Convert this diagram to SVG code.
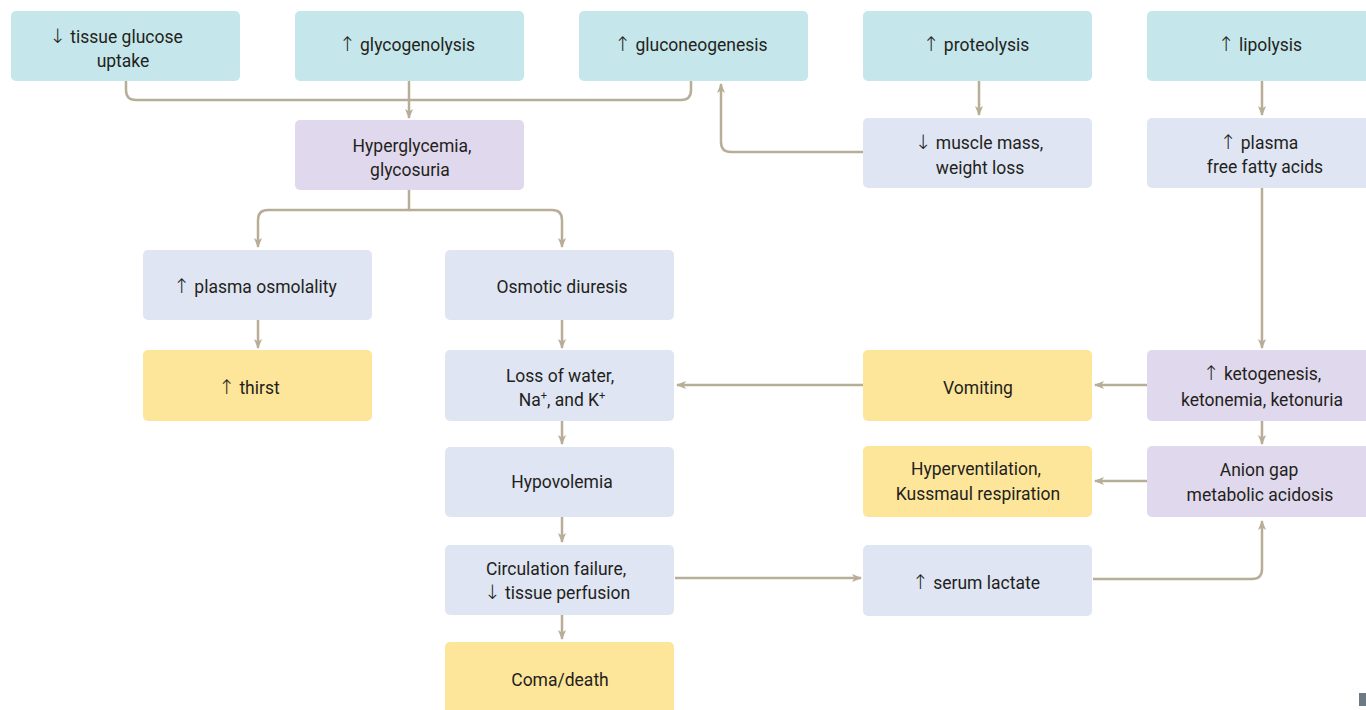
<svg xmlns="http://www.w3.org/2000/svg" width="1366" height="710" viewBox="0 0 1366 710">
<style>
.t{fill:#c5e6ea}.b{fill:#dfe5f3}.p{fill:#e0d8ec}.y{fill:#fde59a}
text{font-family:Roboto,"Noto Sans","Liberation Sans",sans-serif;font-size:17.5px;fill:#231f20;text-anchor:middle}
.ar{font-family:"DejaVu Sans",sans-serif;font-size:20px;font-weight:300}
.c path{fill:none;stroke:#b8ae98;stroke-width:2.5}
</style>
<defs>
<marker id="a" viewBox="0 0 10 10" refX="9" refY="5" markerWidth="10" markerHeight="10" markerUnits="userSpaceOnUse" orient="auto">
<path d="M0,1 L10,5 L0,9 L2.5,5 z" fill="#b8ae98"/>
</marker>
</defs>
<rect width="1366" height="710" fill="#fff"/>
<g class="c">
<path d="M126,81 V90 Q126,100 136,100 H681 Q691,100 691,90 V81"/>
<path d="M409,81 V118" marker-end="url(#a)"/>
<path d="M409,190 V210 H268 Q258,210 258,220 V247" marker-end="url(#a)"/>
<path d="M409,210 H552 Q562,210 562,220 V247" marker-end="url(#a)"/>
<path d="M863,152 H731 Q721,152 721,142 V84" marker-end="url(#a)"/>
<path d="M979,81 V115" marker-end="url(#a)"/>
<path d="M1262,81 V115" marker-end="url(#a)"/>
<path d="M1262,188 V348" marker-end="url(#a)"/>
<path d="M258,320 V348" marker-end="url(#a)"/>
<path d="M562,320 V348" marker-end="url(#a)"/>
<path d="M863,385 H677" marker-end="url(#a)"/>
<path d="M1147,385 H1095" marker-end="url(#a)"/>
<path d="M1262,421 V444" marker-end="url(#a)"/>
<path d="M1147,481 H1095" marker-end="url(#a)"/>
<path d="M562,421 V444" marker-end="url(#a)"/>
<path d="M562,517 V542" marker-end="url(#a)"/>
<path d="M562,615 V639" marker-end="url(#a)"/>
<path d="M675,578 H861" marker-end="url(#a)"/>
<path d="M1093,579 H1252 Q1262,579 1262,569 V521" marker-end="url(#a)"/>
</g>
<g id="n1"><rect class="t" x="11" y="11" width="229" height="70" rx="5"/><text x="116" y="43"><tspan class="ar">↓</tspan> tissue glucose</text><text x="123" y="67">uptake</text></g>
<g id="n2"><rect class="t" x="295" y="11" width="229" height="70" rx="5"/><text x="407" y="51"><tspan class="ar">↑</tspan> glycogenolysis</text></g>
<g id="n3"><rect class="t" x="579" y="11" width="229" height="70" rx="5"/><text x="691" y="51"><tspan class="ar">↑</tspan> gluconeogenesis</text></g>
<g id="n4"><rect class="t" x="863" y="11" width="229" height="70" rx="5"/><text x="976" y="51"><tspan class="ar">↑</tspan> proteolysis</text></g>
<g id="n5"><rect class="t" x="1147" y="11" width="229" height="70" rx="5"/><text x="1260" y="51"><tspan class="ar">↑</tspan> lipolysis</text></g>
<g id="n6"><rect class="p" x="295" y="120" width="229" height="70" rx="5"/><text x="412" y="152">Hyperglycemia,</text><text x="410" y="176">glycosuria</text></g>
<g id="n7"><rect class="b" x="863" y="118" width="229" height="70" rx="5"/><text x="979" y="149"><tspan class="ar">↓</tspan> muscle mass,</text><text x="980" y="174">weight loss</text></g>
<g id="n8"><rect class="b" x="1147" y="118" width="229" height="70" rx="5"/><text x="1259" y="149"><tspan class="ar">↑</tspan> plasma</text><text x="1265" y="173">free fatty acids</text></g>
<g id="n9"><rect class="b" x="143" y="250" width="229" height="70" rx="5"/><text x="255" y="293"><tspan class="ar">↑</tspan> plasma osmolality</text></g>
<g id="n10"><rect class="b" x="445" y="250" width="229" height="70" rx="5"/><text x="562" y="293">Osmotic diuresis</text></g>
<g id="n11"><rect class="y" x="143" y="350" width="229" height="71" rx="5"/><text x="249" y="394"><tspan class="ar">↑</tspan> thirst</text></g>
<g id="n12"><rect class="b" x="445" y="350" width="229" height="71" rx="5"/><text x="560" y="382">Loss of water,</text><text x="562" y="406">Na<tspan font-size="11" dy="-7">+</tspan><tspan dy="7">, and K</tspan><tspan font-size="11" dy="-7">+</tspan></text></g>
<g id="n13"><rect class="y" x="863" y="350" width="229" height="71" rx="5"/><text x="978" y="394">Vomiting</text></g>
<g id="n14"><rect class="p" x="1147" y="350" width="229" height="71" rx="5"/><text x="1262" y="380"><tspan class="ar">↑</tspan> ketogenesis,</text><text x="1262" y="406">ketonemia, ketonuria</text></g>
<g id="n15"><rect class="b" x="445" y="447" width="229" height="70" rx="5"/><text x="562" y="488">Hypovolemia</text></g>
<g id="n16"><rect class="y" x="863" y="446" width="229" height="71" rx="5"/><text x="976" y="475">Hyperventilation,</text><text x="978" y="500">Kussmaul respiration</text></g>
<g id="n17"><rect class="p" x="1147" y="446" width="229" height="71" rx="5"/><text x="1259" y="476">Anion gap</text><text x="1260" y="501">metabolic acidosis</text></g>
<g id="n18"><rect class="b" x="445" y="545" width="229" height="70" rx="5"/><text x="556" y="575">Circulation failure,</text><text x="557" y="599"><tspan class="ar">↓</tspan> tissue perfusion</text></g>
<g id="n19"><rect class="b" x="863" y="545" width="229" height="71" rx="5"/><text x="976" y="589"><tspan class="ar">↑</tspan> serum lactate</text></g>
<g id="n20"><rect class="y" x="445" y="642" width="229" height="75" rx="5"/><text x="560" y="686">Coma/death</text></g>
<rect x="1359" y="693" width="7" height="13" fill="#6b7a84"/>
</svg>
